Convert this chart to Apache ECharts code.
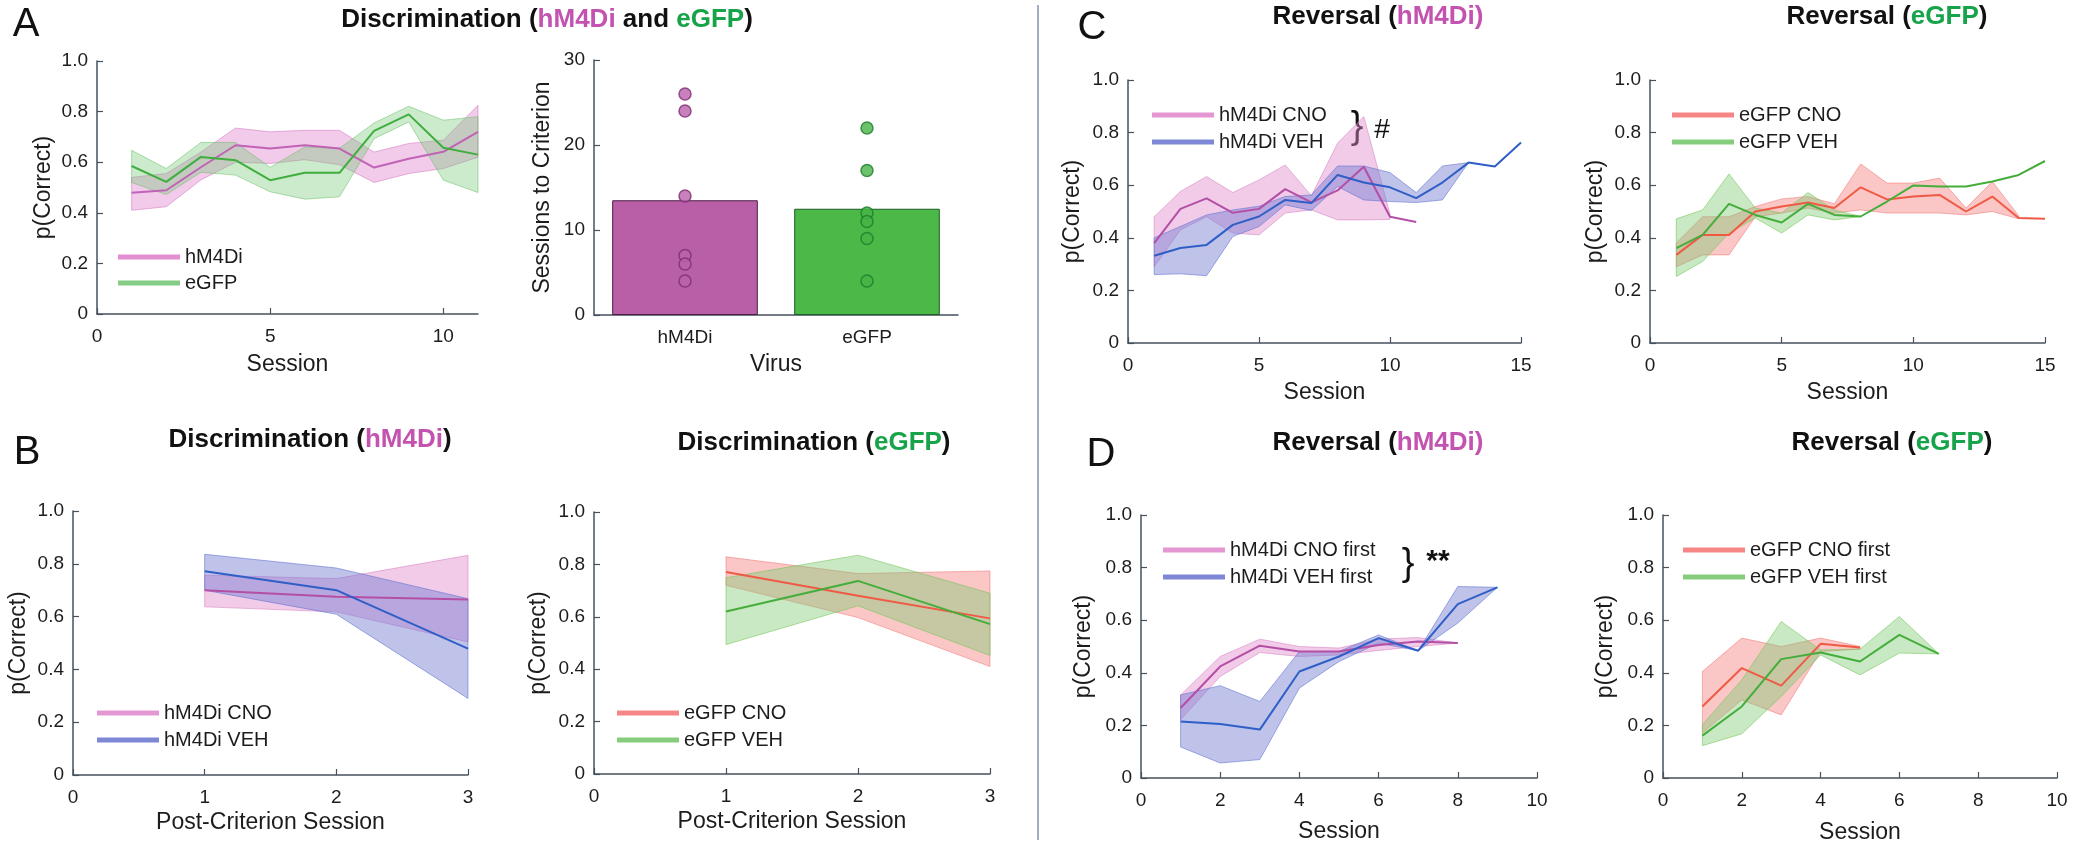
<!DOCTYPE html>
<html><head><meta charset="utf-8">
<script src="https://cdn.jsdelivr.net/npm/echarts@6/dist/echarts.min.js"></script>
<style>html,body{margin:0;padding:0;background:#fff}#c{width:2074px;height:845px}</style>
</head><body><div id="c"></div>
<script>
// ---------------- DATA ----------------
const sessions = [1,2,3,4,5,6,7,8,9,10,11,12,13,14,15];
const postCritSessions = [1,2,3];
// Panel A left: Discrimination, p(Correct) by session
const aHm4diMean = [0.479,0.489,0.58,0.667,0.654,0.667,0.654,0.579,0.614,0.641,0.72];
const aHm4diLo   = [0.41,0.424,0.53,0.60,0.595,0.61,0.59,0.52,0.555,0.575,0.62];
const aHm4diHi   = [0.54,0.555,0.64,0.735,0.72,0.726,0.726,0.64,0.674,0.687,0.825];
const aEgfpMean  = [0.585,0.522,0.621,0.608,0.529,0.558,0.558,0.724,0.789,0.657,0.63];
const aEgfpLo    = [0.52,0.472,0.56,0.549,0.483,0.454,0.463,0.693,0.759,0.529,0.48];
const aEgfpHi    = [0.647,0.575,0.678,0.678,0.58,0.66,0.655,0.755,0.821,0.766,0.78];
// Panel A right: sessions to criterion
const virusCategories = ['hM4Di','eGFP'];
const critMeans = [13.5, 12.5];
const critHm4diAnimals = [26,24,14,7,6,4];
const critEgfpAnimals  = [22,17,12,11,9,4];
// Panel B: post-criterion sessions
const bHm4diCnoMean = [0.70,0.675,0.665];
const bHm4diCnoLo   = [0.637,0.618,0.504];
const bHm4diCnoHi   = [0.757,0.744,0.832];
const bHm4diVehMean = [0.772,0.70,0.479];
const bHm4diVehLo   = [0.70,0.609,0.29];
const bHm4diVehHi   = [0.836,0.784,0.668];
const bEgfpCnoMean  = [0.771,0.68,0.594];
const bEgfpCnoLo    = [0.72,0.597,0.41];
const bEgfpCnoHi    = [0.829,0.765,0.775];
const bEgfpVehMean  = [0.62,0.737,0.572];
const bEgfpVehLo    = [0.494,0.642,0.452];
const bEgfpVehHi    = [0.749,0.835,0.69];
// Panel C: reversal
const cHm4diCnoMean = [0.38,0.51,0.55,0.495,0.51,0.585,0.535,0.58,0.67,0.48,0.46];
const cHm4diCnoLo   = [0.29,0.43,0.48,0.418,0.411,0.494,0.506,0.468,0.468,0.47];
const cHm4diCnoHi   = [0.48,0.576,0.633,0.572,0.62,0.677,0.56,0.76,0.861,0.49];
const cHm4diVehMean = [0.332,0.361,0.373,0.449,0.481,0.544,0.532,0.639,0.61,0.592,0.551,0.61,0.686,0.671,0.762];
const cHm4diVehLo   = [0.26,0.263,0.256,0.405,0.443,0.525,0.504,0.595,0.544,0.538,0.534,0.544,0.686];
const cHm4diVehHi   = [0.40,0.443,0.487,0.506,0.52,0.557,0.563,0.673,0.673,0.648,0.572,0.673,0.686];
const cEgfpCnoMean  = [0.335,0.411,0.411,0.50,0.519,0.534,0.513,0.592,0.546,0.557,0.563,0.50,0.557,0.475,0.472];
const cEgfpCnoLo    = [0.29,0.335,0.335,0.48,0.494,0.513,0.494,0.506,0.494,0.494,0.494,0.487,0.50,0.472];
const cEgfpCnoHi    = [0.38,0.48,0.48,0.519,0.548,0.557,0.529,0.681,0.608,0.608,0.627,0.513,0.614,0.484];
const cEgfpVehMean  = [0.361,0.411,0.529,0.487,0.458,0.529,0.487,0.481,0.538,0.599,0.595,0.595,0.614,0.639,0.692];
const cEgfpVehLo    = [0.253,0.31,0.418,0.475,0.418,0.487,0.468,0.481];
const cEgfpVehHi    = [0.472,0.506,0.643,0.513,0.494,0.572,0.506,0.481];
// Panel D: reversal by drug order
const dHm4diCnoMean = [0.266,0.424,0.503,0.481,0.481,0.506,0.519,0.513];
const dHm4diCnoLo   = [0.222,0.386,0.477,0.462,0.468,0.485,0.50,0.513];
const dHm4diCnoHi   = [0.316,0.462,0.528,0.50,0.494,0.528,0.534,0.513];
const dHm4diVehMean = [0.215,0.205,0.184,0.405,0.462,0.532,0.484,0.661,0.725];
const dHm4diVehLo   = [0.118,0.057,0.07,0.342,0.443,0.513,0.484,0.589,0.725];
const dHm4diVehHi   = [0.316,0.351,0.291,0.481,0.481,0.544,0.484,0.728,0.725];
const dEgfpCnoMean  = [0.272,0.418,0.351,0.51,0.496];
const dEgfpCnoLo    = [0.171,0.297,0.24,0.481,0.49];
const dEgfpCnoHi    = [0.405,0.532,0.50,0.532,0.50];
const dEgfpVehMean  = [0.161,0.272,0.452,0.477,0.443,0.544,0.472];
const dEgfpVehLo    = [0.123,0.168,0.31,0.468,0.392,0.475,0.472];
const dEgfpVehHi    = [0.203,0.373,0.595,0.487,0.49,0.614,0.472];

// ---------------- STYLE ----------------
const FONT = '"Liberation Sans", Arial, Helvetica, sans-serif';
const AXIS_COLOR = '#45525e';
const TEXT_COLOR = '#1c1c1c';
const C = {
  mag:  {line:'#c063b6', band:'rgba(224,130,204,0.42)', edge:'rgba(210,110,190,0.5)'},
  grn:  {line:'#3fae3f', band:'rgba(120,200,120,0.38)', edge:'rgba(100,190,100,0.5)'},
  pur:  {line:'#b44fa6', band:'rgba(226,140,206,0.45)', edge:'rgba(210,120,190,0.5)'},
  blu:  {line:'#2f5fc6', band:'rgba(112,122,208,0.45)', edge:'rgba(90,110,205,0.55)'},
  red:  {line:'#ef5a45', band:'rgba(245,120,120,0.42)', edge:'rgba(240,110,110,0.5)'},
  vgr:  {line:'#45ad3b', band:'rgba(120,200,110,0.4)',  edge:'rgba(120,200,90,0.6)'}
};

const grids = [
  {left:97,   top:61,  width:381, height:253},
  {left:594,  top:60,  width:364, height:255},
  {left:73,   top:511, width:395, height:264},
  {left:594,  top:512, width:396, height:262},
  {left:1128, top:80,  width:393, height:263},
  {left:1650, top:80,  width:395, height:263},
  {left:1141, top:515, width:396, height:263},
  {left:1663, top:515, width:394, height:263}
];

const pFmt = v => v === 0 ? '0' : v.toFixed(1);
const axisBase = {
  axisLine:{show:true, lineStyle:{color:AXIS_COLOR, width:1.5}},
  axisTick:{show:true, inside:true, length:6, lineStyle:{color:AXIS_COLOR, width:1.2}},
  splitLine:{show:false},
  nameLocation:'middle',
  nameTextStyle:{fontSize:23, color:TEXT_COLOR, fontFamily:FONT}
};
function xVal(g, max, interval, name, gap, showMax) {
  return Object.assign({}, axisBase, {
    type:'value', gridIndex:g, min:0, max, interval, name, nameGap:gap,
    axisLabel:{fontSize:19, color:TEXT_COLOR, fontFamily:FONT, margin:13, showMaxLabel:showMax !== false}
  });
}
function yVal(g, max, interval, name, gap, fmt) {
  return Object.assign({}, axisBase, {
    type:'value', gridIndex:g, min:0, max, interval, name, nameGap:gap,
    axisLabel:{fontSize:19, color:TEXT_COLOR, fontFamily:FONT, margin:9, formatter:fmt}
  });
}

function band(g, lo, hi, col) {
  const xs = sessions.slice(0, lo.length);
  return {
    type:'custom', xAxisIndex:g, yAxisIndex:g, silent:true, z:1,
    data: xs.map((x,i)=>[x, lo[i], hi[i]]),
    encode:{x:0, y:[1,2]},
    renderItem: function(params, api) {
      if (params.dataIndex !== 0) return null;
      const pts = [];
      for (let i = 0; i < xs.length; i++) pts.push(api.coord([xs[i], hi[i]]));
      for (let i = xs.length - 1; i >= 0; i--) pts.push(api.coord([xs[i], lo[i]]));
      return {type:'polygon', shape:{points:pts}, style:{fill:col.band, stroke:col.edge, lineWidth:1}};
    }
  };
}
function line(g, name, xsAll, ys, col) {
  return {
    type:'line', name, xAxisIndex:g, yAxisIndex:g, z:3, silent:true,
    data: ys.map((y,i)=>[xsAll[i], y]),
    symbol:'none', showSymbol:false,
    lineStyle:{color:col.line, width:2}, itemStyle:{color:col.line}
  };
}
function legendAt(left, top, gap, names, cols) {
  return {
    orient:'vertical', left, top, padding:0, itemGap:gap, itemWidth:62, itemHeight:5,
    icon:'rect', selectedMode:false,
    textStyle:{fontSize:20, color:TEXT_COLOR, fontFamily:FONT},
    formatter: n => n.split('|')[1],
    data: names.map((n,i)=>({name:n, itemStyle:{color:cols[i].band.replace(/[\d.]+\)$/, '0.9)')}}))
  };
}

const series = [
  // A left
  band(0, aHm4diLo, aHm4diHi, C.mag), band(0, aEgfpLo, aEgfpHi, C.grn),
  line(0, 'A|hM4Di', sessions, aHm4diMean, C.mag), line(0, 'A|eGFP', sessions, aEgfpMean, C.grn),
  // A right
  {type:'bar', name:'crit', xAxisIndex:1, yAxisIndex:1, barWidth:'80%', silent:true,
   data: critMeans.map((v,i)=>({value:v, itemStyle:{color: i===0 ? '#b95fa8' : '#4cb847', borderColor: i===0 ? '#4a1c46' : '#1b5e24', borderWidth:1}}))},
  {type:'scatter', name:'critHm4di', xAxisIndex:1, yAxisIndex:1, symbolSize:12, silent:true, z:4,
   data: critHm4diAnimals.map(v=>[0, v]), itemStyle:{color:'#bb60ab', borderColor:'#7a2e72', borderWidth:1.5}},
  {type:'scatter', name:'critEgfp', xAxisIndex:1, yAxisIndex:1, symbolSize:12, silent:true, z:4,
   data: critEgfpAnimals.map(v=>[1, v]), itemStyle:{color:'#46b446', borderColor:'#1e7c2a', borderWidth:1.5}},
  // B left
  band(2, bHm4diCnoLo, bHm4diCnoHi, C.pur), band(2, bHm4diVehLo, bHm4diVehHi, C.blu),
  line(2, 'B1|hM4Di CNO', postCritSessions, bHm4diCnoMean, C.pur), line(2, 'B1|hM4Di VEH', postCritSessions, bHm4diVehMean, C.blu),
  // B right
  band(3, bEgfpCnoLo, bEgfpCnoHi, C.red), band(3, bEgfpVehLo, bEgfpVehHi, C.vgr),
  line(3, 'B2|eGFP CNO', postCritSessions, bEgfpCnoMean, C.red), line(3, 'B2|eGFP VEH', postCritSessions, bEgfpVehMean, C.vgr),
  // C left
  band(4, cHm4diCnoLo, cHm4diCnoHi, C.pur), band(4, cHm4diVehLo, cHm4diVehHi, C.blu),
  line(4, 'C1|hM4Di CNO', sessions, cHm4diCnoMean, C.pur), line(4, 'C1|hM4Di VEH', sessions, cHm4diVehMean, C.blu),
  // C right
  band(5, cEgfpCnoLo, cEgfpCnoHi, C.red), band(5, cEgfpVehLo, cEgfpVehHi, C.vgr),
  line(5, 'C2|eGFP CNO', sessions, cEgfpCnoMean, C.red), line(5, 'C2|eGFP VEH', sessions, cEgfpVehMean, C.vgr),
  // D left
  band(6, dHm4diCnoLo, dHm4diCnoHi, C.pur), band(6, dHm4diVehLo, dHm4diVehHi, C.blu),
  line(6, 'D1|hM4Di CNO first', sessions, dHm4diCnoMean, C.pur), line(6, 'D1|hM4Di VEH first', sessions, dHm4diVehMean, C.blu),
  // D right
  band(7, dEgfpCnoLo, dEgfpCnoHi, C.red), band(7, dEgfpVehLo, dEgfpVehHi, C.vgr),
  line(7, 'D2|eGFP CNO first', sessions, dEgfpCnoMean, C.red), line(7, 'D2|eGFP VEH first', sessions, dEgfpVehMean, C.vgr)
];

const richT = {
  k:{fontSize:26, fontWeight:'bold', fill:'#111', fontFamily:FONT},
  m:{fontSize:26, fontWeight:'bold', fill:'#c452b0', fontFamily:FONT},
  g:{fontSize:26, fontWeight:'bold', fill:'#17a34a', fontFamily:FONT}
};
function title(x, y, text) {
  return {type:'text', x, y, silent:true, style:{text, rich:richT, align:'center', verticalAlign:'middle', textAlign:'center', textVerticalAlign:'middle', font:'bold 26px ' + FONT, fill:'#111'}};
}
function plain(x, y, text, size, weight) {
  return {type:'text', x, y, silent:true, style:{text, align:'center', verticalAlign:'middle', textAlign:'center', textVerticalAlign:'middle', font:(weight||'normal') + ' ' + size + 'px ' + FONT, fill:'#111'}};
}

const option = {
  animation:false,
  backgroundColor:'#ffffff',
  textStyle:{fontFamily:FONT},
  grid: grids,
  xAxis: [
    xVal(0, 11, 5, 'Session', 39, false),
    Object.assign({}, axisBase, {type:'category', gridIndex:1, data:virusCategories, name:'Virus', nameGap:38,
      axisTick:{show:true, inside:true, length:6, alignWithLabel:true, lineStyle:{color:AXIS_COLOR, width:1.2}},
      axisLabel:{fontSize:19, color:TEXT_COLOR, fontFamily:FONT, margin:13}}),
    xVal(2, 3, 1, 'Post-Criterion Session', 36),
    xVal(3, 3, 1, 'Post-Criterion Session', 36),
    xVal(4, 15, 5, 'Session', 38),
    xVal(5, 15, 5, 'Session', 38),
    xVal(6, 10, 2, 'Session', 42),
    xVal(7, 10, 2, 'Session', 43)
  ],
  yAxis: [
    yVal(0, 1, 0.2, 'p(Correct)', 42, pFmt),
    yVal(1, 30, 10, 'Sessions to Criterion', 40),
    yVal(2, 1, 0.2, 'p(Correct)', 43, pFmt),
    yVal(3, 1, 0.2, 'p(Correct)', 44, pFmt),
    yVal(4, 1, 0.2, 'p(Correct)', 44, pFmt),
    yVal(5, 1, 0.2, 'p(Correct)', 43, pFmt),
    yVal(6, 1, 0.2, 'p(Correct)', 46, pFmt),
    yVal(7, 1, 0.2, 'p(Correct)', 46, pFmt)
  ],
  legend: [
    legendAt(118, 247, 6, ['A|hM4Di','A|eGFP'], [C.mag, C.grn]),
    legendAt(97, 703, 7, ['B1|hM4Di CNO','B1|hM4Di VEH'], [C.pur, C.blu]),
    legendAt(617, 703, 7, ['B2|eGFP CNO','B2|eGFP VEH'], [C.red, C.vgr]),
    legendAt(1152, 105, 7, ['C1|hM4Di CNO','C1|hM4Di VEH'], [C.pur, C.blu]),
    legendAt(1672, 105, 7, ['C2|eGFP CNO','C2|eGFP VEH'], [C.red, C.vgr]),
    legendAt(1163, 540, 7, ['D1|hM4Di CNO first','D1|hM4Di VEH first'], [C.pur, C.blu]),
    legendAt(1683, 540, 7, ['D2|eGFP CNO first','D2|eGFP VEH first'], [C.red, C.vgr])
  ],
  graphic: [
    {type:'line', silent:true, shape:{x1:1038, y1:5, x2:1038, y2:840}, style:{stroke:'#7f97ab', lineWidth:1.5}},
    plain(26, 25, 'A', 40), plain(27, 453, 'B', 40), plain(1092, 28, 'C', 40), plain(1101, 455, 'D', 40),
    title(547, 20, '{k|Discrimination (}{m|hM4Di}{k| and }{g|eGFP}{k|)}'),
    title(310, 440, '{k|Discrimination (}{m|hM4Di}{k|)}'),
    title(814, 443, '{k|Discrimination (}{g|eGFP}{k|)}'),
    title(1378, 17, '{k|Reversal (}{m|hM4Di)}'),
    title(1887, 17, '{k|Reversal (}{g|eGFP}{k|)}'),
    title(1378, 443, '{k|Reversal (}{m|hM4Di)}'),
    title(1892, 443, '{k|Reversal (}{g|eGFP}{k|)}'),
    plain(1357, 128, '}', 38), plain(1382, 130, '#', 28),
    plain(1408, 565, '}', 38), plain(1438, 562, '**', 30, 'bold')
  ],
  series
};
const chart = echarts.init(document.getElementById('c'), null, {renderer:'canvas'});
chart.setOption(option);
</script></body></html>
